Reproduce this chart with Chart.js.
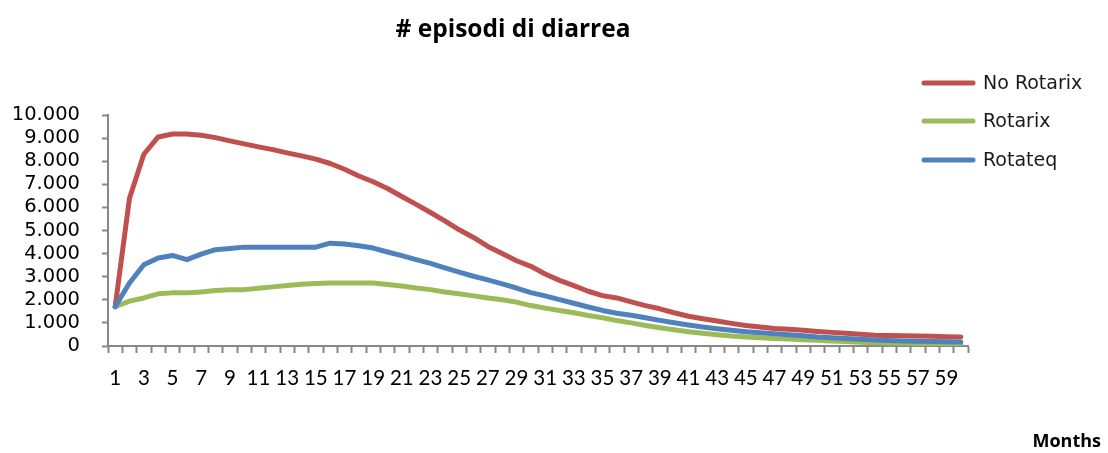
<!DOCTYPE html>
<html>
<head>
<meta charset="utf-8">
<title># episodi di diarrea</title>
<script src="https://cdn.jsdelivr.net/npm/chart.js@4.4.1/dist/chart.umd.min.js"></script>
<style>
  html, body { margin: 0; padding: 0; background: #ffffff; }
  #wrap { width: 1108px; height: 453px; position: relative; }
</style>
</head>
<body>
<div id="wrap"><canvas id="chart" width="1108" height="453"></canvas></div>
<script>
// Months 1..60
const months = [
  1, 2, 3, 4, 5, 6, 7, 8, 9, 10, 11, 12, 13, 14, 15, 16, 17, 18, 19, 20,
  21, 22, 23, 24, 25, 26, 27, 28, 29, 30, 31, 32, 33, 34, 35, 36, 37, 38, 39, 40,
  41, 42, 43, 44, 45, 46, 47, 48, 49, 50, 51, 52, 53, 54, 55, 56, 57, 58, 59, 60
];

// Episodes of diarrhoea per month, by scenario
const noRotarix = [
  1700, 6400, 8300, 9050, 9180, 9180, 9120, 9020, 8880, 8750,
  8620, 8500, 8360, 8230, 8090, 7900, 7650, 7360, 7110, 6820,
  6470, 6130, 5780, 5420, 5030, 4700, 4310, 4000, 3690, 3450,
  3120, 2840, 2610, 2370, 2180, 2080, 1910, 1750, 1610, 1440,
  1290, 1180, 1080, 980, 890, 820, 760, 720, 680, 630,
  590, 550, 510, 470, 450, 440, 430, 420, 400, 390
];
const rotarix = [
  1700, 1940, 2080, 2260, 2300, 2300, 2340, 2400, 2440, 2440,
  2500, 2560, 2620, 2670, 2710, 2730, 2730, 2730, 2730, 2660,
  2600, 2510, 2440, 2340, 2260, 2170, 2080, 2000, 1900, 1750,
  1640, 1540, 1440, 1320, 1220, 1100, 1000, 890, 790, 700,
  620, 550, 490, 430, 390, 360, 320, 300, 270, 250,
  220, 190, 160, 140, 130, 120, 110, 100, 95, 90
];
const rotateq = [
  1700, 2730, 3520, 3810, 3920, 3740, 3980, 4170, 4220, 4280,
  4280, 4280, 4280, 4280, 4280, 4450, 4420, 4340, 4240, 4070,
  3910, 3740, 3580, 3380, 3200, 3020, 2860, 2690, 2510, 2310,
  2170, 2010, 1850, 1690, 1540, 1420, 1330, 1220, 1110, 1010,
  910, 820, 750, 680, 620, 570, 530, 490, 440, 390,
  360, 320, 290, 260, 240, 220, 210, 200, 180, 170
];

const seriesNames = ['No Rotarix', 'Rotarix', 'Rotateq'];
const chartTitle = '# episodi di diarrea';
const xAxisTitle = 'Months';

const COLORS = ['#C0504D', '#9BBB59', '#4F81BD'];
const AXIS_GREY = '#878787';

// Italian thousands separator: 10000 -> "10.000"
function fmtThousands(v) {
  return String(v).replace(/\B(?=(\d{3})+(?!\d))/g, '.');
}

// Title, axis caption and the legend block on the right
const annotations = {
  id: 'annotations',
  afterDraw(chart) {
    const ctx = chart.ctx;
    ctx.save();
    ctx.fillStyle = '#000000';
    ctx.textBaseline = 'middle';

    ctx.font = 'bold 24.5px "Open Sans"';
    ctx.textAlign = 'center';
    ctx.fillText(chartTitle, 513, 30);

    ctx.font = 'bold 18px "Open Sans"';
    ctx.textAlign = 'right';
    ctx.fillText(xAxisTitle, 1101, 442);

    const rows = [83, 121, 160];
    chart.data.datasets.forEach((ds, i) => {
      const y = rows[i];
      ctx.strokeStyle = ds.borderColor;
      ctx.lineWidth = 5;
      ctx.lineCap = 'round';
      ctx.beginPath();
      ctx.moveTo(924, y);
      ctx.lineTo(973, y);
      ctx.stroke();
      ctx.fillStyle = '#1a1a1a';
      ctx.font = '19px "DejaVu Sans"';
      ctx.textAlign = 'left';
      ctx.fillText(ds.label, 983, y + 1);
    });
    ctx.restore();
  }
};

const datasets = [noRotarix, rotarix, rotateq].map((vals, i) => ({
  label: seriesNames[i],
  data: vals,
  borderColor: COLORS[i],
  backgroundColor: COLORS[i],
  borderWidth: 5,
  pointRadius: 0,
  pointHoverRadius: 0,
  tension: 0,
  borderJoinStyle: 'round',
  borderCapStyle: 'round',
  fill: false,
  order: 2 - i
}));

function build() {
  new Chart(document.getElementById('chart'), {
    type: 'line',
    data: { labels: months, datasets: datasets },
    options: {
      responsive: false,
      animation: false,
      events: [],
      layout: { padding: { left: 0, right: 140, top: 115, bottom: 0 } },
      plugins: {
        legend: { display: false },
        title: { display: false },
        tooltip: { enabled: false }
      },
      scales: {
        x: {
          type: 'category',
          offset: true,
          border: { display: true, color: AXIS_GREY, width: 2 },
          grid: {
            offset: true,
            drawOnChartArea: false,
            drawTicks: true,
            tickLength: 7,
            tickWidth: 2,
            tickColor: AXIS_GREY,
            color: AXIS_GREY
          },
          ticks: {
            autoSkip: false,
            maxRotation: 0,
            minRotation: 0,
            padding: 13,
            color: '#000000',
            font: { family: 'Lato', size: 20.5 },
            callback: function (val, idx) {
              return idx % 2 === 0 ? String(months[idx]) : '';
            }
          },
          afterFit(scale) { scale.height = 107; }
        },
        y: {
          min: 0,
          max: 10000,
          border: { display: true, color: AXIS_GREY, width: 2 },
          grid: {
            drawOnChartArea: false,
            drawTicks: true,
            tickLength: 6,
            tickWidth: 2,
            tickColor: AXIS_GREY,
            color: AXIS_GREY
          },
          ticks: {
            stepSize: 1000,
            autoSkip: false,
            padding: 22,
            color: '#000000',
            font: { family: 'DejaVu Sans', size: 19.5 },
            callback: (v) => fmtThousands(v)
          },
          afterFit(scale) { scale.width = 108; }
        }
      }
    },
    plugins: [annotations]
  });
}

const fontsNeeded = [
  '20.5px Lato', '19.5px "DejaVu Sans"', 'bold 24.5px "Open Sans"', 'bold 18px "Open Sans"'
];
Promise.all(fontsNeeded.map(f => document.fonts.load(f).catch(() => null)))
  .then(build, build);
</script>
</body>
</html>
